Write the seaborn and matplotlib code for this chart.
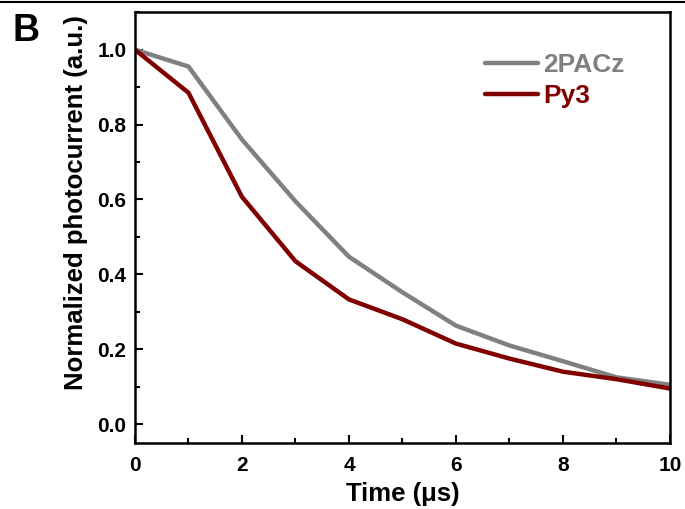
import numpy as np
import pandas as pd
import matplotlib
matplotlib.use("Agg")
import matplotlib.pyplot as plt
from matplotlib.ticker import MultipleLocator
import seaborn as sns

time_us = [0, 1, 2, 3, 4, 5, 6, 7, 8, 9, 10]
pacz = [1.0, 0.955, 0.76, 0.595, 0.447, 0.352, 0.263, 0.21, 0.168, 0.125, 0.105]
py3 = [1.0, 0.885, 0.607, 0.435, 0.333, 0.28, 0.215, 0.175, 0.14, 0.12, 0.095]
series_names = ["2PACz", "Py3"]
colors = {"2PACz": "#808080", "Py3": "#800000"}

df = pd.DataFrame({
    "Time": time_us * 2,
    "Value": pacz + py3,
    "Sample": [series_names[0]] * len(time_us) + [series_names[1]] * len(time_us),
})

sns.set_style("ticks")
plt.rcParams["font.family"] = ["Liberation Sans", "DejaVu Sans"]
plt.rcParams["font.weight"] = "bold"
plt.rcParams["text.color"] = "black"
plt.rcParams["axes.labelcolor"] = "black"
plt.rcParams["xtick.color"] = "black"
plt.rcParams["ytick.color"] = "black"
plt.rcParams["axes.edgecolor"] = "black"

fig = plt.figure(figsize=(6.85, 5.09), dpi=100)
ax = fig.add_axes([0.197, 0.130, 0.781, 0.846])

sns.lineplot(data=df, x="Time", y="Value", hue="Sample", palette=colors,
             linewidth=3.2, ax=ax, legend=True)

ax.set_xlim(0, 10)
ax.set_ylim(-0.05, 1.1)
ax.xaxis.set_major_locator(MultipleLocator(2))
ax.xaxis.set_minor_locator(MultipleLocator(1))
ax.yaxis.set_minor_locator(MultipleLocator(0.1))
ax.set_yticks([0.0, 0.2, 0.4, 0.6, 0.8, 1.0])
ax.set_yticklabels(["0.0", "0.2", "0.4", "0.6", "0.8", "1.0"])
ax.tick_params(which="both", direction="in", top=False, right=False, width=1.5,
               labelsize=15, colors="black")
ax.tick_params(axis="x", which="both", pad=9.5)
ax.tick_params(axis="y", which="both", pad=6)
ax.tick_params(which="major", length=6)
ax.tick_params(which="minor", length=3.5)
for lab in ax.get_xticklabels() + ax.get_yticklabels():
    lab.set_fontweight("bold")
for s in ax.spines.values():
    s.set_linewidth(1.8)
    s.set_color("black")
    s.set_visible(True)

ax.set_xlabel("Time (μs)", fontsize=18.5, fontweight="bold", labelpad=5, color="black")
ax.set_ylabel("Normalized photocurrent (a.u.)", fontsize=18.5, fontweight="bold",
              color="black")
ax.yaxis.set_label_coords(-0.088, 0.559)

leg = ax.legend(frameon=False, loc="upper right", bbox_to_anchor=(0.96, 0.96),
                fontsize=19, handlelength=2.0, handletextpad=0.2, labelspacing=0.25,
                labelcolor="linecolor")
for t in leg.get_texts():
    t.set_fontweight("bold")

fig.text(0.018, 0.975, "B", fontsize=27, fontweight="bold", va="top", ha="left", color="black")
fig.add_artist(plt.Line2D([0, 1], [0.997, 0.997], color="black", lw=1.5,
                          transform=fig.transFigure))

fig.savefig("out.png", dpi=100)
